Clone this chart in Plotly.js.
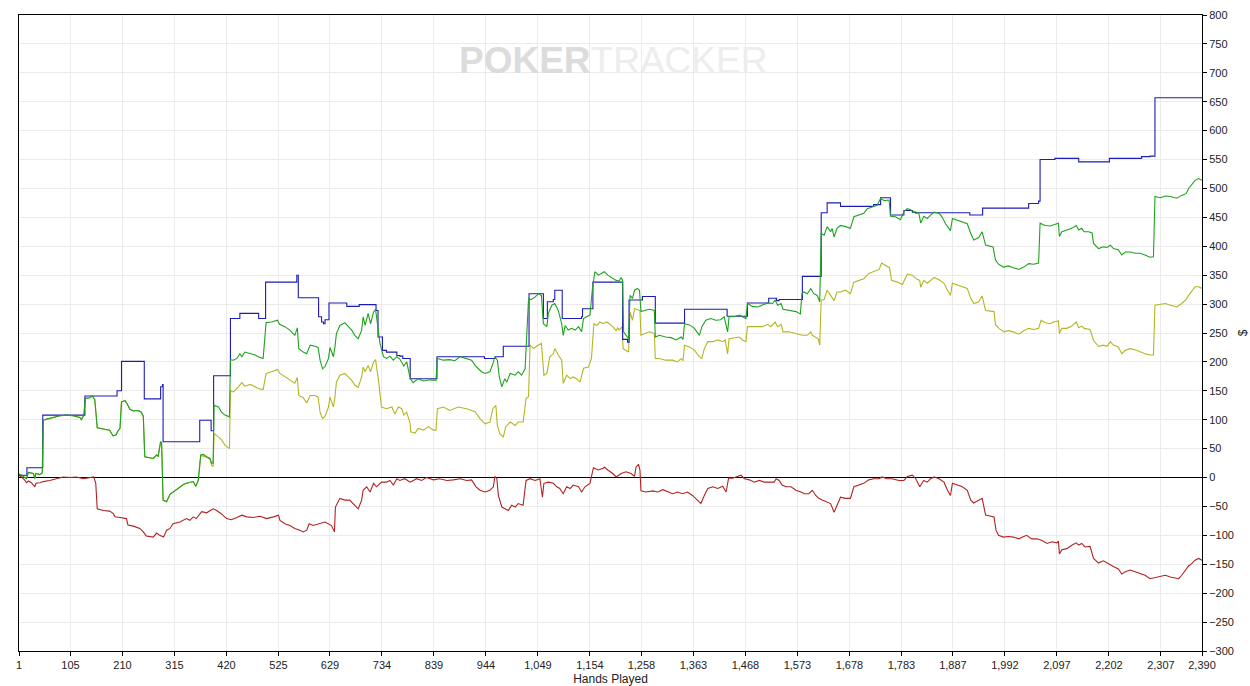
<!DOCTYPE html>
<html>
<head>
<meta charset="utf-8">
<script src="https://cdn.plot.ly/plotly-3.0.1.min.js"></script>
<style>
html,body{margin:0;padding:0;background:#fff;}
#chart{width:1250px;height:686px;}
</style>
</head>
<body>
<div id="chart"></div>
<script>
// ---- data: [hand, value] ----
const bluePoints = [[1,4],[17,17],[49,108],[134,141],[199,150],[208,201],[254,136],[287,157],[291,161],[292,62],[366,99],[389,81],[394,176],[428,275],[447,284],[485,275],[499,338],[562,350],[565,311],[606,278],[612,269],[616,266],[619,273],[627,302],[663,296],[688,299],[722,289],[726,243],[735,220],[743,217],[764,211],[770,210],[776,206],[791,171],[845,209],[941,206],[963,209],[979,227],[1031,318],[1060,275],[1068,304],[1080,308],[1083,324],[1098,275],[1137,278],[1139,292],[1160,338],[1220,239],[1230,234],[1233,307],[1260,313],[1286,267],[1345,291],[1431,279],[1472,302],[1515,310],[1531,306],[1536,308],[1583,348],[1621,458],[1633,475],[1660,469],[1727,472],[1741,484],[1761,454],[1788,462],[1805,459],[1812,458],[1921,454],[1947,466],[2040,474],[2060,478],[2063,550],[2093,552],[2141,546],[2203,552],[2268,555],[2285,556],[2295,657],[2390,657]];

const greenPoints = [[1,6],[6,4],[16,-2],[20,9],[30,7],[33,-2],[35,7],[43,5],[48,8],[50,99],[57,101],[70,104],[84,107],[97,108],[110,107],[124,104],[127,100],[132,108],[135,137],[144,138],[149,141],[154,135],[159,86],[171,84],[184,82],[191,72],[197,74],[201,81],[205,85],[208,131],[215,133],[219,128],[225,118],[232,115],[242,116],[248,113],[252,106],[255,36],[265,35],[272,33],[279,39],[282,37],[287,62],[289,60],[292,-39],[299,-42],[306,-29],[312,-25],[319,-21],[326,-16],[333,-12],[339,-10],[346,-9],[353,-7],[358,-15],[363,-5],[368,39],[373,40],[380,36],[387,33],[390,25],[393,25],[395,125],[404,122],[410,113],[417,108],[426,105],[428,204],[434,203],[441,206],[447,214],[451,209],[457,217],[468,214],[478,212],[484,209],[494,206],[500,268],[511,269],[523,272],[527,265],[538,261],[548,255],[558,246],[563,259],[566,223],[575,217],[582,214],[589,229],[599,227],[605,225],[609,203],[614,188],[619,192],[626,206],[629,225],[636,209],[639,226],[642,249],[649,263],[659,268],[666,261],[673,255],[679,246],[686,240],[693,255],[696,278],[700,263],[706,284],[711,266],[717,286],[721,291],[723,278],[730,232],[737,209],[743,206],[750,210],[757,203],[764,209],[770,205],[778,193],[784,200],[791,171],[797,164],[807,171],[818,167],[831,169],[843,168],[846,206],[858,203],[871,204],[881,202],[892,209],[905,206],[915,203],[922,194],[929,188],[935,183],[942,180],[952,183],[958,197],[962,209],[967,203],[971,174],[976,157],[982,171],[986,165],[993,180],[1003,177],[1009,183],[1016,177],[1023,188],[1030,309],[1036,308],[1043,312],[1050,318],[1056,315],[1060,266],[1067,261],[1070,284],[1077,298],[1083,301],[1090,289],[1097,266],[1100,246],[1104,263],[1110,255],[1117,258],[1124,255],[1131,261],[1137,252],[1141,275],[1147,278],[1154,281],[1159,327],[1164,356],[1171,350],[1183,356],[1190,350],[1200,344],[1207,341],[1213,340],[1217,346],[1220,341],[1222,252],[1227,246],[1232,240],[1235,315],[1240,310],[1244,324],[1250,327],[1254,324],[1257,287],[1264,289],[1274,291],[1284,289],[1286,243],[1294,246],[1307,243],[1318,242],[1328,238],[1338,243],[1342,239],[1345,266],[1355,264],[1365,258],[1375,246],[1380,261],[1388,272],[1398,275],[1408,272],[1418,273],[1425,278],[1432,252],[1435,278],[1445,278],[1456,281],[1462,278],[1469,275],[1472,301],[1482,296],[1493,295],[1503,298],[1513,302],[1523,301],[1528,307],[1533,298],[1540,301],[1544,291],[1556,289],[1570,287],[1579,283],[1582,318],[1586,321],[1593,318],[1600,327],[1606,318],[1613,315],[1618,304],[1621,422],[1627,419],[1633,434],[1640,425],[1643,431],[1647,416],[1653,431],[1660,436],[1670,434],[1680,431],[1687,451],[1697,454],[1707,457],[1714,465],[1724,468],[1734,471],[1741,483],[1748,479],[1758,480],[1761,452],[1771,451],[1781,446],[1788,460],[1795,465],[1805,462],[1812,457],[1818,458],[1822,440],[1828,452],[1835,448],[1842,454],[1849,459],[1859,457],[1865,451],[1872,439],[1882,427],[1886,448],[1896,445],[1906,442],[1916,439],[1923,422],[1929,411],[1939,415],[1946,425],[1953,402],[1960,400],[1968,399],[1973,376],[1979,369],[1989,364],[1999,366],[2009,363],[2020,360],[2030,364],[2040,370],[2050,369],[2060,371],[2063,440],[2073,436],[2083,435],[2094,438],[2100,440],[2102,417],[2107,425],[2117,428],[2127,431],[2136,436],[2141,428],[2147,431],[2152,425],[2161,425],[2168,423],[2171,405],[2181,396],[2191,399],[2198,398],[2205,402],[2211,396],[2221,394],[2228,385],[2235,390],[2245,390],[2255,388],[2265,388],[2275,385],[2285,381],[2292,382],[2295,486],[2306,484],[2316,487],[2326,486],[2339,483],[2349,488],[2358,491],[2363,500],[2369,506],[2376,514],[2383,517],[2390,514]];

const goldPoints = [[1,6],[6,4],[16,-2],[20,9],[30,7],[33,-2],[35,7],[43,5],[48,8],[50,99],[57,101],[70,104],[84,107],[97,108],[110,107],[124,104],[127,100],[132,108],[135,137],[144,138],[149,141],[154,135],[159,86],[171,84],[184,82],[191,72],[197,74],[201,81],[205,85],[208,131],[215,133],[219,128],[225,118],[232,115],[242,116],[248,113],[252,106],[255,36],[265,35],[272,33],[279,39],[282,37],[287,62],[289,60],[292,-39],[299,-42],[306,-29],[312,-25],[319,-21],[326,-16],[333,-12],[339,-10],[346,-9],[353,-7],[358,-15],[363,-5],[368,38],[380,35],[387,31],[390,21],[393,19],[395,76],[404,70],[410,65],[417,56],[426,50],[428,150],[434,148],[444,157],[451,164],[457,158],[468,161],[478,157],[484,154],[494,152],[500,180],[511,183],[523,187],[528,180],[538,174],[548,169],[558,163],[563,173],[566,142],[575,138],[582,129],[589,142],[599,142],[605,139],[609,113],[614,102],[619,106],[626,122],[629,139],[636,122],[639,139],[642,165],[649,177],[659,180],[666,174],[673,168],[679,160],[686,156],[693,174],[696,191],[700,183],[706,194],[711,183],[717,200],[721,204],[727,168],[733,122],[743,119],[754,122],[760,110],[767,122],[774,119],[778,108],[784,113],[791,93],[792,79],[801,77],[807,85],[818,82],[828,88],[838,82],[843,82],[846,119],[858,122],[871,116],[888,122],[905,119],[922,114],[932,102],[942,93],[952,96],[958,119],[964,125],[967,90],[972,76],[979,70],[984,88],[993,96],[1003,90],[1009,96],[1019,96],[1025,137],[1030,140],[1033,229],[1040,223],[1046,227],[1056,232],[1061,177],[1067,180],[1073,209],[1080,214],[1083,223],[1090,212],[1097,203],[1100,163],[1107,177],[1114,171],[1120,174],[1127,171],[1134,165],[1141,189],[1151,191],[1157,206],[1162,266],[1168,263],[1174,269],[1181,266],[1188,269],[1193,266],[1200,261],[1207,254],[1210,259],[1213,255],[1219,261],[1221,223],[1227,219],[1232,217],[1235,286],[1240,272],[1244,292],[1250,291],[1255,289],[1257,246],[1264,249],[1274,252],[1284,249],[1286,206],[1294,206],[1307,203],[1321,203],[1331,200],[1338,206],[1342,202],[1345,229],[1355,226],[1365,220],[1375,209],[1380,206],[1385,223],[1392,235],[1402,235],[1412,238],[1422,235],[1427,238],[1432,214],[1435,240],[1445,242],[1456,243],[1462,238],[1469,235],[1472,261],[1482,261],[1493,262],[1503,261],[1513,265],[1519,261],[1528,269],[1533,261],[1540,265],[1544,252],[1556,252],[1570,249],[1583,246],[1593,246],[1600,252],[1603,246],[1610,243],[1615,240],[1618,229],[1621,307],[1627,308],[1633,324],[1640,315],[1647,306],[1653,321],[1660,321],[1670,324],[1680,318],[1687,338],[1697,341],[1707,344],[1717,353],[1727,356],[1738,360],[1743,371],[1751,367],[1759,363],[1763,341],[1775,338],[1785,334],[1795,352],[1805,350],[1812,344],[1820,341],[1822,329],[1828,341],[1835,336],[1842,341],[1849,346],[1859,342],[1869,336],[1876,324],[1882,315],[1886,336],[1896,333],[1906,330],[1916,327],[1923,310],[1929,301],[1939,304],[1946,314],[1953,289],[1963,288],[1970,287],[1973,264],[1980,258],[1990,252],[1999,254],[2009,252],[2020,248],[2030,254],[2040,258],[2050,256],[2060,258],[2065,272],[2073,268],[2083,266],[2090,269],[2100,271],[2102,249],[2107,258],[2117,258],[2127,262],[2136,269],[2141,259],[2147,262],[2152,258],[2164,256],[2171,237],[2181,227],[2191,229],[2198,227],[2205,235],[2211,229],[2221,226],[2228,214],[2235,220],[2245,223],[2255,221],[2265,217],[2275,214],[2285,212],[2292,212],[2295,298],[2306,300],[2316,301],[2326,298],[2339,295],[2349,301],[2358,308],[2363,315],[2369,321],[2376,330],[2383,330],[2390,327]];

const redPoints = [[1,4],[6,1],[13,-5],[16,-9],[20,-6],[26,-9],[33,-16],[35,-10],[43,-9],[50,-7],[63,-5],[77,-2],[90,1],[104,0],[117,1],[131,-2],[144,0],[152,1],[156,-10],[159,-54],[171,-57],[184,-58],[191,-62],[195,-68],[205,-69],[218,-71],[221,-82],[232,-84],[245,-88],[252,-94],[258,-101],[272,-103],[279,-96],[285,-100],[293,-103],[299,-91],[306,-88],[312,-80],[326,-77],[333,-74],[339,-71],[346,-74],[353,-68],[359,-71],[370,-59],[380,-61],[393,-54],[400,-57],[410,-63],[420,-71],[430,-73],[441,-69],[451,-65],[461,-68],[474,-69],[488,-67],[501,-71],[515,-68],[525,-65],[528,-74],[538,-80],[548,-83],[558,-88],[568,-91],[575,-94],[582,-91],[587,-80],[595,-83],[609,-80],[619,-77],[632,-83],[638,-94],[640,-51],[649,-36],[659,-39],[669,-39],[679,-48],[686,-54],[693,-39],[696,-22],[703,-16],[710,-25],[717,-10],[723,-16],[733,-8],[743,-8],[750,-5],[757,-13],[764,-2],[770,-5],[780,-2],[791,-8],[804,-2],[814,-5],[824,0],[838,-4],[851,-2],[865,-5],[878,-4],[892,-2],[905,-5],[915,-4],[924,-16],[932,-22],[942,-25],[952,-22],[959,-16],[962,2],[966,-2],[969,-31],[976,-51],[982,-54],[989,-57],[996,-48],[1003,-51],[1009,-45],[1019,-48],[1025,-5],[1033,-2],[1043,-5],[1053,-2],[1058,-34],[1061,-10],[1070,-8],[1080,-10],[1087,-16],[1093,-19],[1100,-28],[1107,-16],[1114,-19],[1120,-13],[1131,-16],[1137,-25],[1144,-16],[1154,-10],[1161,17],[1171,13],[1181,16],[1183,18],[1190,13],[1200,7],[1207,1],[1213,4],[1217,7],[1227,10],[1237,7],[1244,2],[1247,18],[1252,23],[1255,13],[1257,-23],[1267,-25],[1281,-23],[1291,-25],[1301,-21],[1311,-25],[1321,-28],[1331,-25],[1341,-28],[1351,-25],[1361,-31],[1371,-39],[1378,-45],[1385,-31],[1392,-19],[1402,-16],[1412,-19],[1422,-15],[1429,-25],[1434,-1],[1442,-1],[1449,1],[1459,4],[1466,-2],[1476,-4],[1486,-8],[1496,-5],[1506,-8],[1516,-8],[1526,-8],[1530,-2],[1536,-5],[1542,-13],[1550,-16],[1560,-16],[1570,-22],[1580,-25],[1587,-28],[1596,-28],[1603,-22],[1610,-31],[1616,-36],[1623,-39],[1633,-42],[1640,-45],[1647,-60],[1653,-48],[1660,-34],[1670,-36],[1680,-36],[1687,-16],[1697,-13],[1707,-10],[1717,-4],[1727,-2],[1738,-2],[1744,1],[1754,-2],[1764,-2],[1778,-5],[1788,-5],[1795,2],[1805,4],[1812,-2],[1820,-16],[1828,-5],[1835,-8],[1842,-2],[1849,1],[1859,-2],[1869,-8],[1876,-22],[1882,-31],[1886,-10],[1896,-13],[1906,-16],[1916,-22],[1923,-39],[1929,-44],[1939,-40],[1946,-36],[1953,-65],[1963,-67],[1970,-68],[1974,-91],[1979,-100],[1989,-103],[1999,-102],[2009,-103],[2020,-106],[2030,-102],[2036,-100],[2046,-106],[2057,-106],[2067,-109],[2077,-114],[2087,-111],[2097,-113],[2100,-110],[2102,-132],[2107,-125],[2117,-123],[2127,-117],[2136,-113],[2141,-117],[2147,-114],[2154,-120],[2164,-119],[2171,-140],[2181,-148],[2191,-144],[2198,-148],[2205,-152],[2211,-154],[2221,-158],[2228,-167],[2235,-163],[2245,-160],[2255,-163],[2265,-166],[2275,-169],[2285,-175],[2295,-173],[2306,-171],[2316,-169],[2326,-172],[2336,-173],[2343,-175],[2349,-169],[2356,-160],[2363,-153],[2369,-149],[2376,-143],[2383,-140],[2390,-143]];

const xTickVals = [1,105,210,315,420,525,629,734,839,944,1049,1154,1258,1363,1468,1573,1678,1783,1887,1992,2097,2202,2307,2390];
const xTickText = ["1","105","210","315","420","525","629","734","839","944","1,049","1,154","1,258","1,363","1,468","1,573","1,678","1,783","1,887","1,992","2,097","2,202","2,307","2,390"];
const xTitle = "Hands Played";
const yTitle = "$";

function trace(points, color, shape){
  return {
    x: points.map(p => p[0]),
    y: points.map(p => p[1]),
    type: 'scatter', mode: 'lines',
    line: {color: color, width: 1.1, shape: shape || 'linear'},
    hoverinfo: 'skip', showlegend: false
  };
}

const data = [
  trace(redPoints, '#b22222'),
  trace(goldPoints, '#b5b523'),
  trace(bluePoints, '#1c1cb8', 'hv'),
  trace(greenPoints, '#1fa21f')
];

const tickFont = {family: '"Liberation Sans Narrow", "Arial Narrow", "Liberation Sans", Arial, sans-serif', size: 11, color: '#222'};

const layout = {
  width: 1250, height: 686,
  margin: {l: 19, r: 48, t: 15, b: 35},
  paper_bgcolor: '#ffffff', plot_bgcolor: '#ffffff',
  showlegend: false,
  xaxis: {
    range: [1, 2390],
    tickmode: 'array', tickvals: xTickVals, ticktext: xTickText,
    ticks: 'outside', ticklen: 4, tickcolor: '#000',
    showline: true, linecolor: '#000', linewidth: 1, mirror: true,
    showgrid: true, gridcolor: '#ebebeb', gridwidth: 1,
    zeroline: false,
    tickfont: tickFont,
    title: {text: xTitle, font: {family: tickFont.family, size: 12, color: '#222'}, standoff: 4}
  },
  yaxis: {
    side: 'right',
    range: [-300, 800],
    tickmode: 'linear', tick0: 0, dtick: 50,
    ticks: 'outside', ticklen: 4, tickcolor: '#000',
    showline: true, linecolor: '#000', linewidth: 1, mirror: true,
    showgrid: true, gridcolor: '#ebebeb', gridwidth: 1,
    zeroline: true, zerolinecolor: '#000', zerolinewidth: 1,
    tickfont: tickFont,
    title: {text: yTitle, font: {family: tickFont.family, size: 12, color: '#222'}, standoff: 8}
  },
  annotations: [{
    xref: 'paper', yref: 'paper', x: 0.502, y: 0.928,
    xanchor: 'center', yanchor: 'middle', showarrow: false,
    text: '<b><span style="color:#dcdcdc">POKER</span></b><span style="color:#ededed">TRACKER</span>',
    font: {family: '"Liberation Sans Narrow", "Arial Narrow", sans-serif', size: 37, color: '#e4e4e4'}
  }]
};

Plotly.newPlot('chart', data, layout, {displayModeBar: false, staticPlot: true});
</script>
</body>
</html>
